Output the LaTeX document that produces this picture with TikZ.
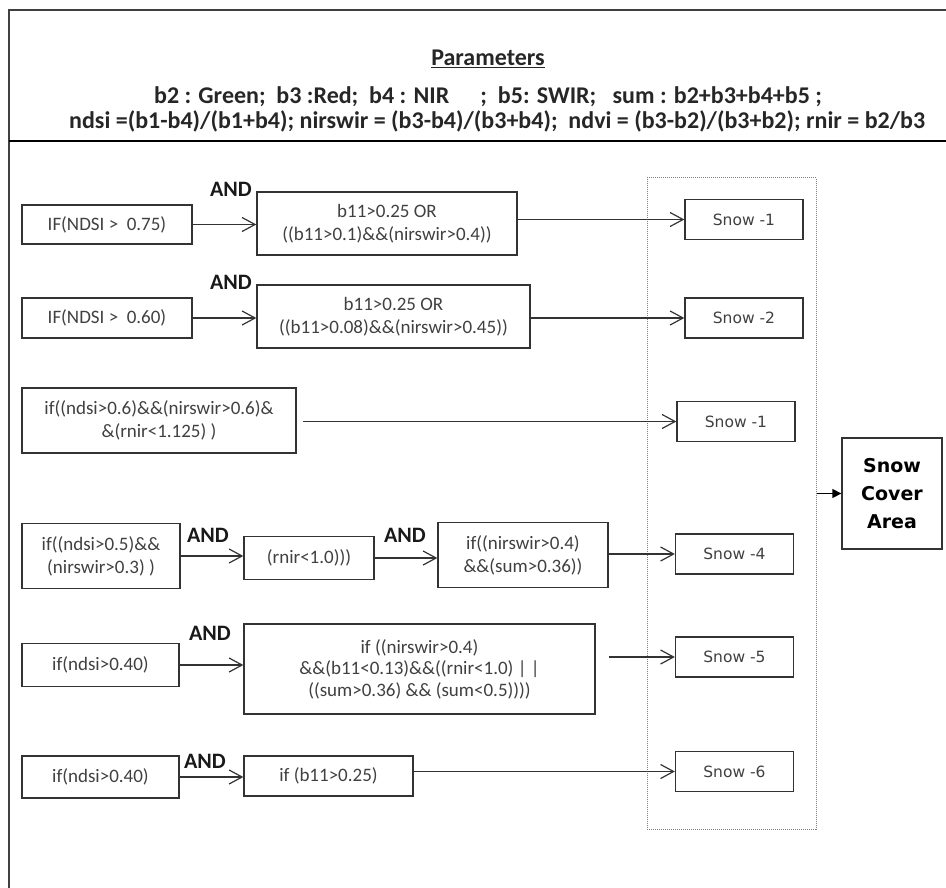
\documentclass[tikz,border=0pt]{standalone}
\usepackage{fontspec}
\setmainfont{Carlito}
\newfontfamily\snowfont{DejaVu Sans}
\usetikzlibrary{arrows.meta}

\begin{document}
\begin{tikzpicture}[x=1pt, y=-1pt,
    box/.style={draw=black!80, line width=1.3pt, align=center, inner sep=0pt,
        text=black!75, font=\fontsize{19}{23}\selectfont},
    wh/.style 2 args={minimum width=#1pt, minimum height=#2pt},
    snowbox/.style={box, wh={118}{40}, font=\snowfont\fontsize{15.5}{18}\selectfont},
    andlbl/.style={inner sep=0pt, text=black!90, font=\bfseries\fontsize{22}{24}\selectfont},
    head/.style={inner sep=0pt, text=black!85, font=\bfseries\fontsize{24}{24}\selectfont},
    arr/.style={-{Straight Barb[length=13pt,width=14pt]}, line width=1.2pt, draw=black!80}]
  \useasboundingbox (0,0) rectangle (946,888);

  \draw[line width=1.5pt, black!75] (9,888) -- (9,10) -- (946,10);
  \draw[line width=2.5pt] (9,141) -- (946,141);
  \node[head] (title) at (488,59) {\underline{Parameters}};
  \node[head] (bands) at (488,97) {b2 : Green;\ \ b3 :Red;\ \ b4 : NIR\hspace{1.3em}; \ b5: SWIR;\ \ \ sum : b2+b3+b4+b5 ;};
  \node[head] (ratios) at (497,121) {ndsi =(b1-b4)/(b1+b4); nirswir = (b3-b4)/(b3+b4);\ \ ndvi = (b3-b2)/(b3+b2); rnir = b2/b3};

  \node[draw=black!50, densely dotted, line width=1pt, inner sep=0pt, wh={169}{651}] (grp) at (731.5,503.5) {};
  \node[box, wh={100}{111}, text=black, font=\snowfont\bfseries\fontsize{19}{28}\selectfont] (sca) at (892,493.5) {Snow\\Cover\\Area};

  \node[box, wh={170}{39}] (c1a) at (107,224.5) {IF(NDSI >\ \ 0.75)};
  \node[box, wh={260}{63}] (c1b) at (387,223.5) {b11>0.25 OR\\((b11>0.1)\&\&(nirswir>0.4))};
  \node[snowbox] (s1) at (744,219.5) {Snow -1};
  \node[andlbl] (and1) at (231,189) {AND};

  \node[box, wh={170}{40}] (c2a) at (107,318) {IF(NDSI >\ \ 0.60)};
  \node[box, wh={273}{63}] (c2b) at (393.5,316.5) {b11>0.25 OR\\((b11>0.08)\&\&(nirswir>0.45))};
  \node[snowbox] (s2) at (744,318) {Snow -2};
  \node[andlbl] (and2) at (231,282) {AND};

  \node[box, wh={274}{65}] (c3) at (159,420.5) {if((ndsi>0.6)\&\&(nirswir>0.6)\&\\\&(rnir<1.125) )};
  \node[snowbox] (s3) at (736,421.5) {Snow -1};

  \node[box, wh={158}{65}] (r4a) at (101,556) {if((ndsi>0.5)\&\&\\(nirswir>0.3) )};
  \node[box, wh={130}{43}] (r4b) at (309,558) {(rnir<1.0)))};
  \node[box, wh={170}{65}] (r4c) at (523,555) {if((nirswir>0.4)\\\&\&(sum>0.36))};
  \node[snowbox] (s4) at (734.5,554) {Snow -4};
  \node[andlbl] (and3) at (208,535) {AND};
  \node[andlbl] (and4) at (405,535) {AND};

  \node[box, wh={157}{43}] (r5a) at (100.5,665) {if(ndsi>0.40)};
  \node[box, wh={351}{90}, font=\fontsize{19}{21.5}\selectfont] (r5b) at (419.5,669) {if ((nirswir>0.4)\\\&\&(b11<0.13)\&\&((rnir<1.0) | |\\((sum>0.36) \&\& (sum<0.5))))};
  \node[snowbox] (s5) at (734.5,657) {Snow -5};
  \node[andlbl] (and5) at (210,633) {AND};

  \node[box, wh={157}{42}] (r6a) at (100.5,777) {if(ndsi>0.40)};
  \node[box, wh={169}{40}] (r6b) at (328.5,776) {if (b11>0.25)};
  \node[snowbox] (s6) at (734.5,771.5) {Snow -6};
  \node[andlbl] (and6) at (205,761) {AND};

  \draw[arr] (c1a.east) -- (c1a.east -| c1b.west);
  \draw[arr] (c1b.east |- s1.west) -- (s1.west);
  \draw[arr] (c2a.east) -- (c2a.east -| c2b.west);
  \draw[arr] (c2b.east |- s2.west) -- (s2.west);
  \draw[arr] ([xshift=6pt]c3.east |- s3.west) -- (s3.west);
  \draw[arr] (r4a.east) -- (r4a.east -| r4b.west);
  \draw[arr] (r4b.east) -- (r4b.east -| r4c.west);
  \draw[arr] (r4c.east |- s4.west) -- (s4.west);
  \draw[arr] (r5a.east) -- (r5a.east -| r5b.west);
  \draw[arr] ([xshift=13pt]r5b.east |- s5.west) -- (s5.west);
  \draw[arr] (r6a.east) -- (r6a.east -| r6b.west);
  \draw[arr] (r6b.east |- s6.west) -- (s6.west);
  \draw[-{Triangle[length=9pt,width=9pt]}, line width=1.3pt] (grp.east |- sca.west) -- (sca.west);
\end{tikzpicture}
\end{document}
